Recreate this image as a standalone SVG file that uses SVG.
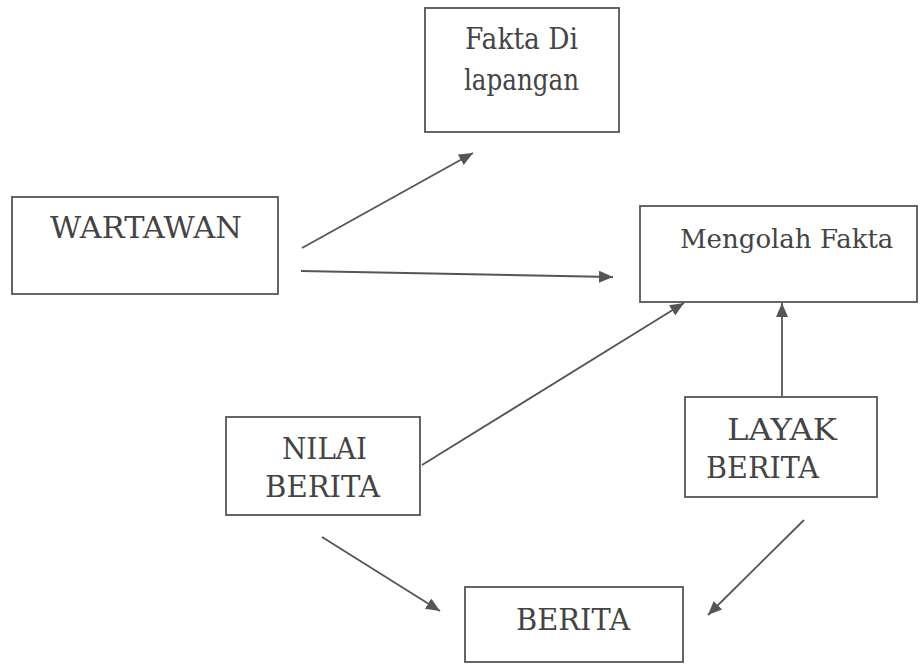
<svg xmlns="http://www.w3.org/2000/svg" width="920" height="664" viewBox="0 0 920 664">
<style>
.box{fill:#fff;stroke:#555;stroke-width:1.8}
.lbl{font-family:"DejaVu Serif",serif;font-size:30px;fill:#444}
.edge{stroke:#555;stroke-width:1.8;fill:none;marker-end:url(#ah)}
</style>
<defs>
<marker id="ah" markerUnits="userSpaceOnUse" markerWidth="14" markerHeight="12" refX="14" refY="6" orient="auto">
<path d="M0,0 L14,6 L0,12 z" fill="#555"/>
</marker>
</defs>
<rect width="920" height="664" fill="#fff"/>
<g id="fakta">
<rect class="box" x="425" y="8" width="194" height="124"/>
<text class="lbl" x="465" y="49" textLength="113" lengthAdjust="spacingAndGlyphs">Fakta Di</text>
<text class="lbl" x="464" y="90" textLength="115" lengthAdjust="spacingAndGlyphs">lapangan</text>
</g>
<g id="wartawan">
<rect class="box" x="12" y="197" width="266" height="97"/>
<text class="lbl" x="50" y="238" textLength="192" lengthAdjust="spacingAndGlyphs">WARTAWAN</text>
</g>
<g id="mengolah">
<rect class="box" x="640" y="206" width="277" height="96"/>
<text class="lbl" x="680" y="248" style="font-size:26px">Mengolah Fakta</text>
</g>
<g id="nilai">
<rect class="box" x="226" y="417" width="194" height="98"/>
<text class="lbl" x="282" y="459" textLength="85" lengthAdjust="spacingAndGlyphs">NILAI</text>
<text class="lbl" x="265" y="497" textLength="115" lengthAdjust="spacingAndGlyphs">BERITA</text>
</g>
<g id="layak">
<rect class="box" x="685" y="397" width="192" height="100"/>
<text class="lbl" x="727" y="440" textLength="110" lengthAdjust="spacingAndGlyphs">LAYAK</text>
<text class="lbl" x="706" y="478" textLength="113" lengthAdjust="spacingAndGlyphs">BERITA</text>
</g>
<g id="berita">
<rect class="box" x="465" y="587" width="218" height="75"/>
<text class="lbl" x="516" y="630" textLength="114" lengthAdjust="spacingAndGlyphs">BERITA</text>
</g>
<g id="connectors">
<line class="edge" x1="302" y1="248" x2="473" y2="153"/>
<line class="edge" x1="301" y1="271" x2="613" y2="277"/>
<line class="edge" x1="422" y1="465" x2="684" y2="303"/>
<line class="edge" x1="782" y1="397" x2="782" y2="303"/>
<line class="edge" x1="322" y1="537" x2="440" y2="611"/>
<line class="edge" x1="804" y1="520" x2="708" y2="615"/>
</g>
</svg>
